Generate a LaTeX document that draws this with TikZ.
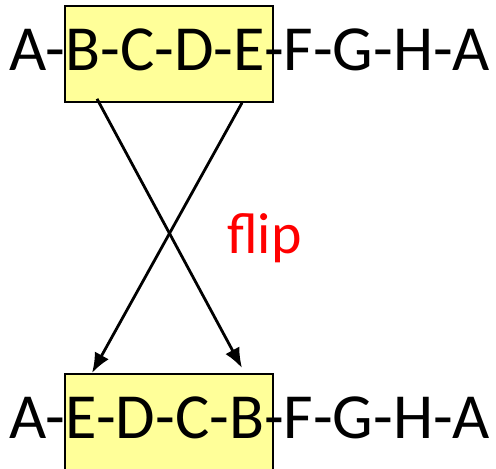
\documentclass[tikz,border=0pt]{standalone}
\usepackage{fontspec}
\setmainfont{Carlito}
\usetikzlibrary{arrows.meta,calc}
\definecolor{segfill}{HTML}{FFFF99}
\begin{document}
\begin{tikzpicture}[x=1pt,y=-1pt,
  segbox/.style={draw=black,line width=1.8pt,fill=segfill,inner sep=0pt,
    minimum width=208pt,minimum height=96pt,anchor=north west},
  tour/.style={inner sep=0pt,anchor=base west,font=\fontsize{64.3}{72}\selectfont},
  crossarrow/.style={draw=black,line width=2.8pt,-{Latex[length=20pt,width=16pt]}}]
\useasboundingbox (0,0) rectangle (496,469);
% selected segment before and after the reversal
\node[segbox] (topbox) at (64,5) {};
\node[segbox,minimum height=110pt] (botbox) at (64,373) {};
% the tours
\node[tour] (toptour) at (9,70) {A-B-C-D-E-F-G-H-A};
\node[tour] (bottour) at (9,438) {A-E-D-C-B-F-G-H-A};
% crossing arrows
\draw[crossarrow] ($(topbox.south west)+(33,-4)$) -- ($(botbox.north west)+(178,-5)$);
\draw[crossarrow] ($(topbox.south west)+(178,0)$) -- ($(botbox.north west)+(28,0)$);
\node[inner sep=0pt,anchor=base west,text=red,font=\fontsize{58}{64}\selectfont]
  (flip) at (227,253) {flip};
\end{tikzpicture}
\end{document}
